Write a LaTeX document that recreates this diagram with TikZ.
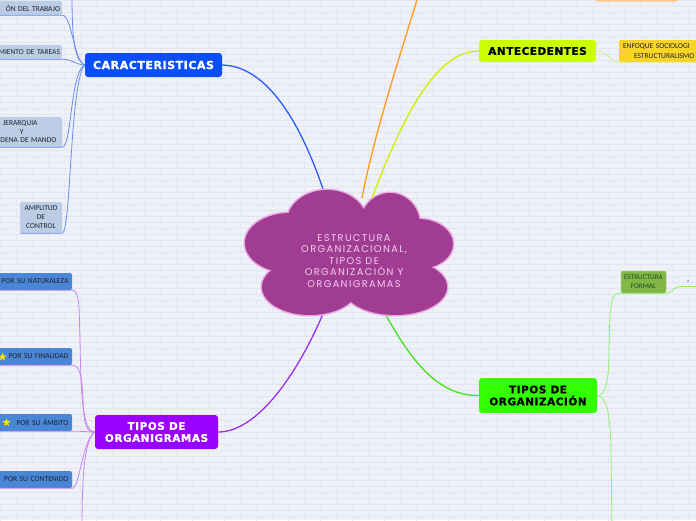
\documentclass[tikz,border=0pt]{standalone}
\usepackage{fontspec}
\setmainfont{Carlito}
\newfontfamily\headfont{DejaVu Sans}[LetterSpace=5, BoldFeatures={FakeBold=1.2}]
\newfontfamily\cloudfont{Poppins}[LetterSpace=14]
\usetikzlibrary{shapes.geometric}
\definecolor{bg}{HTML}{EFF1F9}
\definecolor{brickc}{HTML}{E3E6F0}
\definecolor{cloudfill}{HTML}{A13C93}
\definecolor{cloudedge}{HTML}{E9A8E2}
\definecolor{cloudtxt}{HTML}{F4CDF0}
\definecolor{carblue}{HTML}{0A4FF5}
\definecolor{antlime}{HTML}{CCFF00}
\definecolor{orggreen}{HTML}{33FF00}
\definecolor{ogpurple}{HTML}{9900FF}
\definecolor{lbox}{HTML}{BBCDE4}
\definecolor{lboxb}{HTML}{D4E0EE}
\definecolor{pbox}{HTML}{4A86D6}
\definecolor{enfbox}{HTML}{F9D326}
\definecolor{efbox}{HTML}{82B645}
\definecolor{topbox}{HTML}{F9C98C}
\definecolor{txt}{HTML}{1E2230}
\definecolor{lnblue}{HTML}{2B5CFF}
\definecolor{lnblue2}{HTML}{6A8AF0}
\definecolor{lnorange}{HTML}{FF9A1E}
\definecolor{lnlime}{HTML}{CCF000}
\definecolor{lnlime2}{HTML}{DDEE8A}
\definecolor{lngreen}{HTML}{44E022}
\definecolor{lngreen2}{HTML}{8EF070}
\definecolor{lnpurple}{HTML}{9A30F0}
\definecolor{lnpurple2}{HTML}{C684F2}
\tikzset{
  hd/.style={rounded corners=3pt, inner sep=0pt, align=center, font=\headfont\bfseries},
  chbox/.style={inner xsep=2pt, inner ysep=0pt, fill=lbox, draw=lboxb, line width=0.4pt,
    rounded corners=1.5pt, text=txt, font=\fontsize{7.5}{8.5}\selectfont},
  pchbox/.style={inner xsep=3.5pt, inner ysep=0pt, fill=pbox, rounded corners=1.5pt,
    text=txt, font=\fontsize{7.6}{8.5}\selectfont, minimum height=17pt},
  mainln/.style={line width=1.3pt},
  subln/.style={line width=0.8pt},
  brick/.style={draw=brickc, line width=0.5pt},
  starmark/.style={star, star points=5, star point ratio=2.3, fill=yellow!85!orange, inner sep=0pt, minimum size=8.5pt}
}
\begin{document}
\begin{tikzpicture}[x=1pt,y=-1pt]
\useasboundingbox (0,0) rectangle (696,520);
\begin{scope}
\clip (0,0) rectangle (696,520);
\fill[bg] (0,0) rectangle (696,520);
% brick pattern
\foreach \r in {0,...,86}{
  \pgfmathsetmacro\yy{\r*6}
  \pgfmathsetmacro\off{mod(\r,2)*16}
  \draw[brick] (0,\yy) -- (696,\yy);
  \foreach \k in {0,...,22}{
    \draw[brick] ({\off+\k*32},\yy) -- ++(0,6);
  }
}

% ---------- nodes ----------
\node[hd, fill=carblue, text=white, minimum width=137pt, minimum height=24pt,
  font=\headfont\bfseries\fontsize{11}{12}\selectfont] (car) at (153.5,65) {CARACTERISTICAS};
\node[hd, fill=antlime, text=black, minimum width=117pt, minimum height=22pt,
  font=\headfont\bfseries\fontsize{10.5}{12}\selectfont] (ant) at (537.5,51) {ANTECEDENTES};
\node[hd, fill=orggreen, text=black, minimum width=118pt, minimum height=35pt,
  font=\headfont\bfseries\fontsize{10.5}{12}\selectfont] (tor) at (538,395.5) {TIPOS DE\\ORGANIZACIÓN};
\node[hd, fill=ogpurple, text=white, minimum width=123pt, minimum height=34pt,
  font=\headfont\bfseries\fontsize{10.5}{12}\selectfont] (tog) at (156.5,432) {TIPOS DE\\ORGANIGRAMAS};

% characteristics children
\node[chbox, text width=63pt, align=right, minimum height=14pt] (div) at (28.5,8) {ÓN DEL TRABAJO};
\node[chbox, text width=63pt, align=right, minimum height=14pt] (agr) at (28.5,52) {MIENTO DE TAREAS};
\node[chbox, text width=63pt, align=left, minimum height=30pt] (jer) at (28.5,132)
  {\hspace*{6pt}JERARQUIA\\\hspace*{23pt}Y\\\hspace*{3.5pt}DENA DE MANDO};
\node[chbox, inner xsep=1pt, text width=40pt, align=center, minimum height=31pt,
  font=\fontsize{7.5}{9}\selectfont] (amp) at (41,217.5) {AMPLITUD\\DE\\CONTROL};

% organigram children
\node[pchbox, text width=70pt, align=right] (nat) at (33.5,281.5) {POR SU NATURALEZA};
\node[pchbox, text width=70pt, align=right] (fin) at (33.5,356.5) {POR SU FINALIDAD};
\node[pchbox, text width=70pt, align=right] (amb) at (33.5,422.5) {POR SU ÁMBITO};
\node[pchbox, text width=70pt, align=right] (con) at (33.5,479.5) {POR SU CONTENIDO};
\node[starmark] (finstar) at (2.5,357) {};
\node[starmark] (ambstar) at (6.5,422.5) {};

% right side children
\node[inner xsep=4pt, inner ysep=0pt, fill=enfbox, rounded corners=2pt, text=txt,
  minimum height=22pt, text width=93pt, align=left,
  font=\fontsize{7.5}{9.5}\selectfont] (enf) at (669.5,51)
  {ENFOQUE SOCIOLOGI\\\hspace*{11pt}ESTRUCTURALISMO};
\node[inner sep=0pt, fill=efbox, draw=efbox!70!white, line width=0.5pt, rounded corners=2pt,
  text=txt!80!green, minimum width=45pt, minimum height=22pt, align=center,
  font=\fontsize{7.2}{9}\selectfont] (ef) at (643.5,282) {ESTRUCTURA\\FORMAL};
\node[inner sep=0pt, fill=topbox, rounded corners=2pt, minimum width=83pt, minimum height=19pt] (topb) at (636.5,-8) {};
\node[inner sep=0pt, text=black, font=\fontsize{4.5}{5}\selectfont] (tinyr) at (688.5,281.5) {r};

% hubs / free ends
\coordinate (upC) at (72,-8);
\coordinate (downP) at (82,530);
\coordinate (upO) at (423,-20);
\coordinate (rightG) at (705,286.5);
\coordinate (downG) at (612,530);
\coordinate (clB) at (325,195);
\coordinate (clO) at (362,198);
\coordinate (clL) at (372,198);
\coordinate (clG) at (380,304);
\coordinate (clP) at (327,304);

% ---------- connectors ----------
\draw[mainln, lnblue] (car.east) .. controls (268,66) and (302,125) .. (clB);
\draw[mainln, lnorange] (clO) .. controls (375,130) and (402,50) .. (upO);
\draw[mainln, lnlime] (clL) .. controls (398,130) and (432,51) .. (ant.west);
\draw[mainln, lngreen] (clG) .. controls (412,365) and (440,396) .. (tor.west);
\draw[mainln, lnpurple] (clP) .. controls (305,360) and (262,432) .. (tog.east);

% characteristics sub connectors
\draw[subln, lnblue2] (div.south west) -- (div.south east) .. controls (72,15) and (74,62) .. (car.west);
\draw[subln, lnblue2] (agr.south west) -- (agr.south east) .. controls (72,59) and (76,65) .. (car.west);
\draw[subln, lnblue2] (jer.south west) -- (jer.south east) .. controls (72,147) and (70,72) .. (car.west);
\draw[subln, lnblue2] (amp.south west) -- (amp.south east) .. controls (71,233) and (70,80) .. (car.west);
\draw[subln, lnblue2] (car.west) .. controls (73,60) and (72,30) .. (upC);

% organigram sub connectors
\draw[subln, lnpurple2] (nat.south west) -- (nat.south east) .. controls (80,290) and (79,310) .. (80,340) .. controls (81,400) and (83,432) .. (tog.west);
\draw[subln, lnpurple2] (fin.south west) -- (fin.south east) .. controls (81,365) and (82,380) .. (83,400) .. controls (84,425) and (86,432) .. (tog.west);
\draw[subln, lnpurple2] (amb.south west) -- (amb.south east) .. controls (80,431) and (88,432) .. (tog.west);
\draw[subln, lnpurple2] (con.south west) -- (con.south east) .. controls (80,488) and (82,440) .. (tog.west);
\draw[subln, lnpurple2] (tog.west) .. controls (85,440) and (82,470) .. (downP);

% right side sub connectors
\draw[subln, lnlime2] (ant.east) .. controls (608,51) and (610,62) .. (enf.south west) -- (enf.south east);
\draw[subln, lngreen2] (tor.east) .. controls (606,396) and (609,380) .. (609,350) .. controls (610,300) and (611,293) .. (ef.south west) -- (ef.south east) .. controls (673,293) and (672,286.5) .. (682,286.5) -- (rightG);
\draw[subln, lngreen2] (tor.east) .. controls (606,396) and (610,410) .. (611,450) -- (downG);

% ---------- central cloud ----------
\begin{scope}
\foreach \cx/\cy/\rx/\ry in {327/222/40/32, 390/225/30/32, 290/243/45/30, 418/244/35/25, 310/287/48/28, 395/287/52/28, 350/255/75/45}{
  \draw[cloudedge, line width=3pt] (\cx,\cy) ellipse (\rx pt and \ry pt);
}
\foreach \cx/\cy/\rx/\ry in {327/222/40/32, 390/225/30/32, 290/243/45/30, 418/244/35/25, 310/287/48/28, 395/287/52/28, 350/255/75/45}{
  \fill[cloudfill] (\cx,\cy) ellipse (\rx pt and \ry pt);
}
\end{scope}
\node[align=center, text=cloudtxt, inner sep=0pt,
  font=\cloudfont\fontsize{9.8}{11.5}\selectfont] (cloud) at (354,261)
  {ESTRUCTURA\\ORGANIZACIONAL,\\TIPOS DE\\ORGANIZACIÓN Y\\ORGANIGRAMAS};
\end{scope}
\end{tikzpicture}
\end{document}
